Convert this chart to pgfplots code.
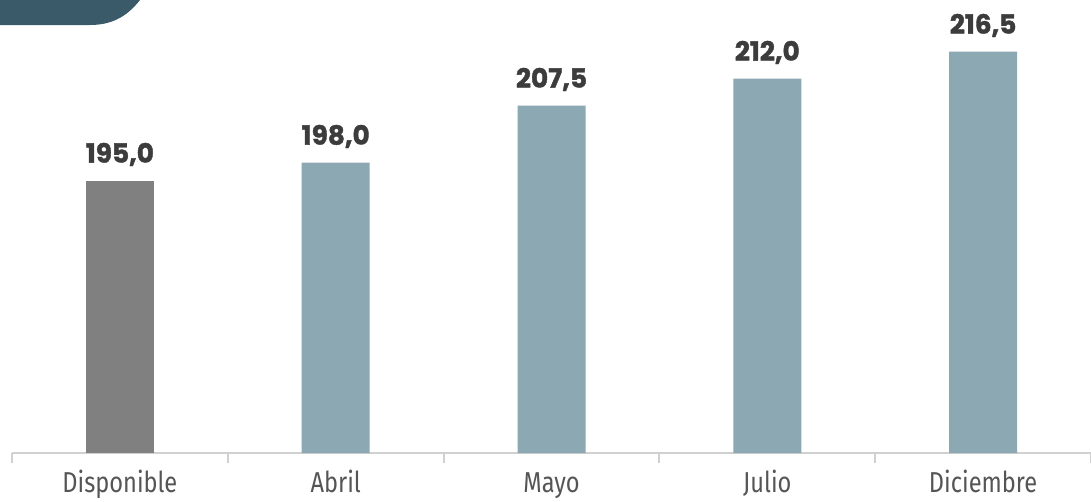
\documentclass[border=0pt]{standalone}
\usepackage{fontspec}
\usepackage{pgfplots}
\pgfplotsset{compat=1.18}
\newfontfamily\valfont[FakeBold=1.5]{Poppins Bold}
\newfontfamily\tickfont[FakeStretch=0.82]{Fira Sans}
\definecolor{graybar}{HTML}{808080}
\definecolor{bluebar}{HTML}{8CA8B3}
\definecolor{deco}{HTML}{3A5A69}
\definecolor{axisgray}{HTML}{D0D0D0}
\definecolor{valtext}{HTML}{3C3C3C}
\definecolor{ticktext}{HTML}{555555}
\begin{document}
\begin{tikzpicture}
\begin{axis}[
  name=ax,
  scale only axis,
  width=539.5pt, height=226.5pt,
  xmin=-0.5, xmax=4.5,
  ymin=149.6, ymax=225.1,
  axis y line=none,
  axis x line*=bottom,
  axis line style={axisgray, line width=1pt},
  xtick={0,1,2,3,4},
  xticklabels={Disponible,Abril,Mayo,Julio,Diciembre},
  major tick length=0pt,
  minor xtick={-0.5,0.5,1.5,2.5,3.5,4.5},
  minor tick length=5pt,
  tick align=outside,
  minor tick style={axisgray, line width=1pt},
  xticklabel style={font=\tickfont\fontsize{14.4}{15}\selectfont, text=ticktext, anchor=base, yshift=-19.5pt, inner sep=0pt},
  ybar, bar width=34pt,
  clip=false,
  nodes near coords,
  every node near coord/.append style={font=\valfont\fontsize{13.2}{13}\selectfont, text=valtext, anchor=base, yshift=9pt},
  /pgf/number format/.cd, fixed, fixed zerofill, precision=1, use comma, assume math mode=true,
]
\addplot[fill=graybar, draw=none, bar shift=0pt] coordinates {(0,195.0)};
\addplot[fill=bluebar, draw=none, bar shift=0pt] coordinates {(1,198.0) (2,207.5) (3,212.0) (4,216.5)};
\end{axis}
\pgfresetboundingbox
\path[use as bounding box] ([xshift=-6pt,yshift=-24pt]ax.south west) rectangle (ax.north east);
\fill[deco] ([xshift=-6pt]ax.north west) -- ++(70pt,0) .. controls ++(-7pt,-9pt) and ++(10pt,0pt) .. ++(-25pt,-12.5pt) -- ++(-45pt,0) -- cycle;
\end{tikzpicture}
\end{document}
